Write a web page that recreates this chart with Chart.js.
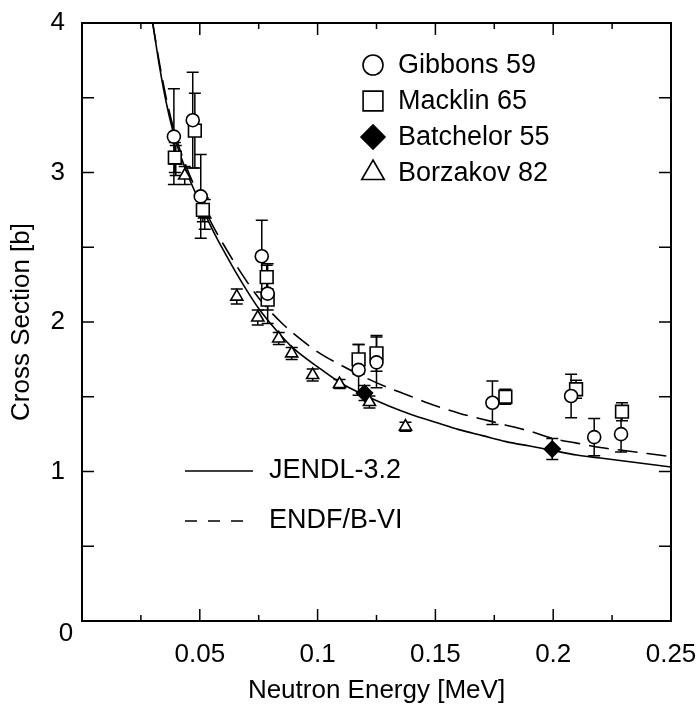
<!DOCTYPE html>
<html>
<head>
<meta charset="utf-8">
<script src="https://cdn.jsdelivr.net/npm/chart.js@4.4.1/dist/chart.umd.min.js"></script>
<style>
  body { margin: 0; background: #fff; }
  #wrap { width: 697px; height: 708px; }
</style>
</head>
<body>
<div id="wrap"><canvas id="grafico"></canvas></div>
<script>
// --- dados ---
const gibbonsE   = [0.039, 0.047, 0.0504, 0.0763, 0.0788, 0.1174, 0.125, 0.1742, 0.2076, 0.2174, 0.2288];
const gibbonsXS  = [3.24, 3.35, 2.84, 2.44, 2.19, 1.68, 1.73, 1.46, 1.505, 1.23, 1.25];
const gibbonsErr = [0.32, 0.32, 0.28, 0.24, 0.20, 0.17, 0.17, 0.145, 0.145, 0.125, 0.12];

const macklinE   = [0.0394, 0.0479, 0.0513, 0.0784, 0.0788, 0.1174, 0.125, 0.1797, 0.2097, 0.2292];
const macklinXS  = [3.10, 3.28, 2.75, 2.30, 2.15, 1.75, 1.79, 1.50, 1.55, 1.40];
const macklinErr = [0.10, 0.25, 0.08, 0.08, 0.07, 0.10, 0.12, 0.05, 0.06, 0.06];

const batchelorE   = [0.1199, 0.1996];
const batchelorXS  = [1.525, 1.15];
const batchelorErr = [0.05, 0.07];

const borzakovE   = [0.0398, 0.0436, 0.0521, 0.0657, 0.0746, 0.0835, 0.089, 0.0979, 0.1093, 0.122, 0.1373];
const borzakovXS  = [3.08, 2.98, 2.72, 2.17, 2.03, 1.89, 1.79, 1.645, 1.585, 1.465, 1.30];
const borzakovErr = [0.10, 0.06, 0.10, 0.05, 0.05, 0.04, 0.04, 0.04, 0.03, 0.04, 0.03];

const curveE = [0.030, 0.033, 0.036, 0.040, 0.045, 0.050, 0.055, 0.060, 0.065, 0.070, 0.075, 0.080, 0.085, 0.090,
                0.100, 0.110, 0.120, 0.130, 0.140, 0.150, 0.160, 0.170, 0.180, 0.190, 0.200, 0.210, 0.220, 0.230, 0.240, 0.250];
const jendlXS = [4.00, 3.70, 3.45, 3.20, 2.98, 2.80, 2.63, 2.48, 2.34, 2.21, 2.09, 1.99, 1.90, 1.82,
                 1.70, 1.59, 1.51, 1.44, 1.38, 1.33, 1.28, 1.24, 1.20, 1.17, 1.14, 1.11, 1.09, 1.07, 1.05, 1.03];
const endfXS  = [4.00, 3.72, 3.48, 3.23, 3.01, 2.83, 2.66, 2.52, 2.39, 2.27, 2.16, 2.07, 1.99, 1.92,
                 1.80, 1.71, 1.63, 1.56, 1.50, 1.44, 1.39, 1.35, 1.31, 1.27, 1.22, 1.19, 1.16, 1.14, 1.12, 1.10];

const xTicks = [0.05, 0.1, 0.15, 0.2, 0.25];
const yTicks = [1, 2, 3, 4];

const FONT = '"Liberation Sans", Arial, sans-serif';

function pts(xs, ys) {
    return xs.map((x, i) => ({ x: x, y: ys[i] }));
}

function marker(label, xs, ys, errs, style, radius, fill) {
    return {
        label: label,
        data: pts(xs, ys),
        errs: errs,
        showLine: false,
        pointStyle: style,
        pointRadius: radius,
        pointHoverRadius: radius,
        pointBackgroundColor: fill,
        pointBorderColor: '#000',
        pointBorderWidth: 1.6,
        order: 1
    };
}

/* barras de erro */
const errorBars = {
    id: 'errorBars',
    beforeDatasetsDraw(chart) {
        const ctx = chart.ctx;
        const xs = chart.scales.x, ys = chart.scales.y;
        ctx.save();
        ctx.strokeStyle = '#000';
        ctx.lineWidth = 1.5;
        chart.data.datasets.forEach(ds => {
            if (!ds.errs) return;
            ds.data.forEach((p, i) => {
                const px = xs.getPixelForValue(p.x);
                const top = ys.getPixelForValue(p.y + ds.errs[i]);
                const bot = ys.getPixelForValue(p.y - ds.errs[i]);
                ctx.beginPath();
                ctx.moveTo(px, top); ctx.lineTo(px, bot);
                ctx.moveTo(px - 6, top); ctx.lineTo(px + 6, top);
                ctx.moveTo(px - 6, bot); ctx.lineTo(px + 6, bot);
                ctx.stroke();
            });
        });
        ctx.restore();
    }
};

/* moldura, ticks internos e legendas */
const frame = {
    id: 'frame',
    afterDraw(chart) {
        const ctx = chart.ctx;
        const a = chart.chartArea;
        const xs = chart.scales.x, ys = chart.scales.y;
        ctx.save();
        ctx.strokeStyle = '#000';
        ctx.lineWidth = 2;
        ctx.strokeRect(a.left, a.top, a.right - a.left, a.bottom - a.top);

        ctx.lineWidth = 1.5;
        ctx.beginPath();
        for (let i = 1; i < 10; i++) {
            const v = i * 0.025;
            const px = xs.getPixelForValue(v);
            const len = i % 2 === 0 ? 12 : 6;
            ctx.moveTo(px, a.bottom); ctx.lineTo(px, a.bottom - len);
            ctx.moveTo(px, a.top); ctx.lineTo(px, a.top + len);
        }
        for (let i = 1; i < 8; i++) {
            const py = ys.getPixelForValue(i * 0.5);
            ctx.moveTo(a.left, py); ctx.lineTo(a.left + 12, py);
            ctx.moveTo(a.right, py); ctx.lineTo(a.right - 12, py);
        }
        ctx.stroke();

        ctx.fillStyle = '#000';
        ctx.font = '26px ' + FONT;
        ctx.textAlign = 'center';
        ctx.textBaseline = 'middle';
        ctx.fillText('0', 66, 634);

        // legenda dos pontos
        const ds = chart.data.datasets;
        ctx.textAlign = 'left';
        ctx.font = '27px ' + FONT;
        const rows = [[0, 65, 10], [1, 101, 14], [2, 137, 12], [3, 173, 13]];
        rows.forEach(r => {
            const d = ds[r[0]];
            ctx.save();
            ctx.fillStyle = d.pointBackgroundColor;
            ctx.strokeStyle = '#000';
            ctx.lineWidth = 1.6;
            Chart.helpers.drawPoint(ctx, { pointStyle: d.pointStyle, radius: r[2], borderWidth: 1.6 }, 373, r[1]);
            ctx.restore();
            ctx.fillText(d.label, 398, r[1] + 1);
        });

        // legenda das curvas
        ctx.lineWidth = 1.5;
        ctx.beginPath();
        ctx.moveTo(185, 471); ctx.lineTo(253, 471);
        ctx.stroke();
        ctx.setLineDash([12, 11]);
        ctx.beginPath();
        ctx.moveTo(185, 521); ctx.lineTo(253, 521);
        ctx.stroke();
        ctx.setLineDash([]);
        ctx.fillText(ds[4].label, 269, 471);
        ctx.fillText(ds[5].label, 269, 521);
        ctx.restore();
    }
};

const ctx = document.getElementById('grafico').getContext('2d');
const grafico = new Chart(ctx, {
    type: 'scatter',
    data: {
        datasets: [
            marker('Gibbons 59', gibbonsE, gibbonsXS, gibbonsErr, 'circle', 6.5, '#fff'),
            marker('Macklin 65', macklinE, macklinXS, macklinErr, 'rect', 9, '#fff'),
            marker('Batchelor 55', batchelorE, batchelorXS, batchelorErr, 'rectRot', 8, '#000'),
            marker('Borzakov 82', borzakovE, borzakovXS, borzakovErr, 'triangle', 7, '#fff'),
            {
                label: 'JENDL-3.2',
                data: pts(curveE, jendlXS),
                showLine: true,
                pointRadius: 0,
                borderColor: '#000',
                borderWidth: 1.6,
                cubicInterpolationMode: 'monotone',
                order: 10
            },
            {
                label: 'ENDF/B-VI',
                data: pts(curveE, endfXS),
                showLine: true,
                pointRadius: 0,
                borderColor: '#000',
                borderWidth: 1.6,
                borderDash: [20, 9],
                cubicInterpolationMode: 'monotone',
                order: 10
            }
        ]
    },
    options: {
        responsive: true,
        maintainAspectRatio: false,
        animation: false,
        layout: { padding: { top: 23, right: 26, left: 0, bottom: 0 } },
        plugins: {
            legend: { display: false },
            tooltip: { enabled: false }
        },
        scales: {
            x: {
                type: 'linear',
                min: 0,
                max: 0.25,
                grid: { display: false },
                border: { display: false },
                afterFit: s => { s.height = 87; s.paddingLeft = 0; s.paddingRight = 0; },
                afterBuildTicks: s => { s.ticks = xTicks.map(v => ({ value: v })); },
                ticks: {
                    color: '#000',
                    font: { family: FONT, size: 26 },
                    padding: 10,
                    maxRotation: 0,
                    autoSkip: false,
                    callback: v => String(v)
                },
                title: {
                    display: true,
                    text: 'Neutron Energy [MeV]',
                    color: '#000',
                    font: { family: FONT, size: 26 },
                    padding: { top: 0, bottom: 2 }
                }
            },
            y: {
                min: 0,
                max: 4,
                grid: { display: false },
                border: { display: false },
                afterFit: s => { s.width = 82; s.paddingTop = 0; s.paddingBottom = 0; },
                afterBuildTicks: s => { s.ticks = yTicks.map(v => ({ value: v })); },
                ticks: {
                    color: '#000',
                    font: { family: FONT, size: 26 },
                    padding: 9,
                    callback: v => String(v)
                },
                title: {
                    display: true,
                    text: 'Cross Section [b]',
                    color: '#000',
                    font: { family: FONT, size: 26 },
                    padding: { top: 6, bottom: 0 }
                }
            }
        }
    },
    plugins: [errorBars, frame]
});
</script>
</body>
</html>
